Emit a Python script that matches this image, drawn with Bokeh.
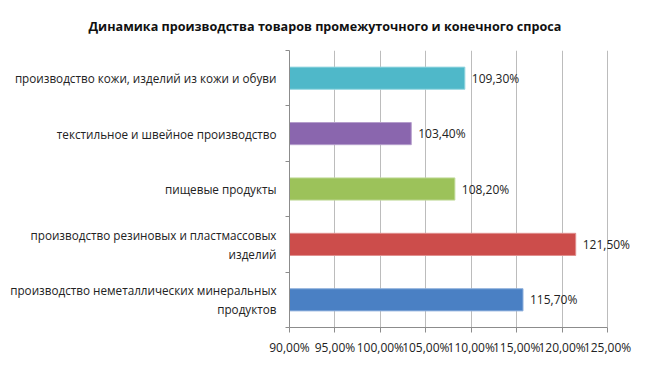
from bokeh.plotting import figure
from bokeh.models import ColumnDataSource, LabelSet, Range1d, FixedTicker
from bokeh.embed import file_html
from bokeh.resources import INLINE
from bokeh.core.properties import value

title_text = "Динамика производства товаров промежуточного и конечного спроса"
categories = [
    "производство неметаллических минеральных\nпродуктов",
    "производство резиновых и пластмассовых\nизделий",
    "пищевые продукты",
    "текстильное и швейное производство",
    "производство кожи, изделий из кожи и обуви",
]
values = [115.7, 121.5, 108.2, 103.4, 109.3]
colors = ["#4a80c4", "#cc4d4b", "#9cc25a", "#8a66ae", "#4fb8c9"]
borders = ["#8fb0dc", "#e08f8d", "#c0da98", "#b59dcc", "#95d6e0"]
x_ticks = [90, 95, 100, 105, 110, 115, 120, 125]
x_tick_labels = ["90,00%", "95,00%", "100,00%", "105,00%", "110,00%", "115,00%", "120,00%", "125,00%"]

pos = list(range(len(categories)))
value_labels = [("%.2f%%" % v).replace(".", ",") for v in values]

src = ColumnDataSource(dict(pos=pos, value=values, color=colors, border=borders,
                            vlabel=value_labels))

FONT = "Open Sans"

# frame is widened to the right (beyond the last tick) so that value labels are not clipped
p = figure(width=640, height=365, output_backend="svg", toolbar_location=None,
           x_range=Range1d(x_ticks[0], 127.97), y_range=Range1d(-0.5, len(categories) - 0.5),
           min_border_left=289, min_border_right=6, min_border_top=47, min_border_bottom=38)
p.outline_line_color = None
p.background_fill_color = "white"
p.border_fill_color = "white"

p.title.text = title_text
p.title.align = "left"
p.title.offset = -201
p.title.text_font = FONT
p.title.text_font_size = "12.6px"
p.title.text_font_style = "bold"
p.title.text_color = "#111111"
p.title.standoff = 31

p.hbar(y="pos", left=x_ticks[0], right="value", height=0.4, source=src,
       fill_color="color", line_color="border", line_width=1)

# x axis
p.xaxis.ticker = FixedTicker(ticks=x_ticks)
p.xaxis.bounds = (x_ticks[0], x_ticks[-1])
p.xaxis.major_label_overrides = {t: l for t, l in zip(x_ticks, x_tick_labels)}
p.xaxis.major_label_text_font = FONT
p.xaxis.major_label_text_font_size = "12px"
p.xaxis.major_label_text_color = "#222222"
p.xaxis.axis_line_color = "#8c8c8c"
p.xaxis.major_tick_line_color = "#8c8c8c"
p.xaxis.major_tick_out = 5
p.xaxis.major_tick_in = 0
p.xaxis.minor_tick_line_color = None
p.xaxis.major_label_standoff = 6

# y axis: labels at category centres, minor ticks at category boundaries
bounds = [i - 0.5 for i in range(len(categories) + 1)]
p.yaxis.ticker = FixedTicker(ticks=pos, minor_ticks=bounds)
p.yaxis.major_label_overrides = {i: c for i, c in zip(pos, categories)}
p.yaxis.major_label_text_font = FONT
p.yaxis.major_label_text_font_size = "11.7px"
p.yaxis.major_label_text_color = "#222222"
p.yaxis.major_label_standoff = 9
p.yaxis.axis_line_color = "#8c8c8c"
p.yaxis.major_tick_line_color = None
p.yaxis.major_tick_out = 0
p.yaxis.major_tick_in = 0
p.yaxis.minor_tick_line_color = "#8c8c8c"
p.yaxis.minor_tick_out = 4
p.yaxis.minor_tick_in = 0

p.xgrid.ticker = FixedTicker(ticks=x_ticks)
p.xgrid.grid_line_color = "#bcbcbc"
p.ygrid.grid_line_color = None

p.add_layout(LabelSet(x="value", y="pos", text="vlabel", source=src, x_offset=7,
                      text_align="left", text_baseline="middle",
                      text_font=value(FONT), text_font_size="12px",
                      text_color="#222222"))

open("out.html", "w").write(file_html(p, INLINE))
